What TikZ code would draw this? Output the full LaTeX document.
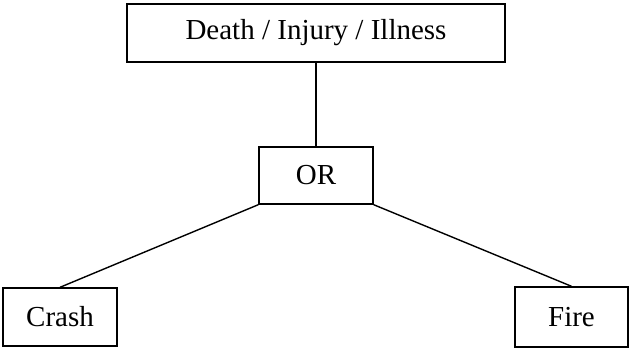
\documentclass[tikz,border=0pt]{standalone}
\usepackage{fontspec}
\setmainfont{Liberation Serif}
\begin{document}
\begin{tikzpicture}[x=1bp,y=-1bp,
  box/.style={draw=black,line width=1.4bp,rectangle,inner sep=0pt,font=\fontsize{29bp}{32bp}\selectfont},
  link/.style={draw=black,line width=1.4bp}]
\useasboundingbox (0,0) rectangle (630,348);
\node[box,minimum width=378bp,minimum height=58bp] (top) at (316,33) {Death / Injury / Illness};
\node[box,minimum width=114bp,minimum height=57bp] (or) at (316,175.5) {OR};
\node[box,minimum width=114bp,minimum height=58bp] (crash) at (60,317) {Crash};
\node[box,minimum width=113bp,minimum height=60bp] (fire) at (571.5,317) {Fire};
\draw[link] (top.south) -- (or.north);
\draw[link] (or.south west) -- (crash.north);
\draw[link] (or.south east) -- (fire.north);
\end{tikzpicture}
\end{document}
